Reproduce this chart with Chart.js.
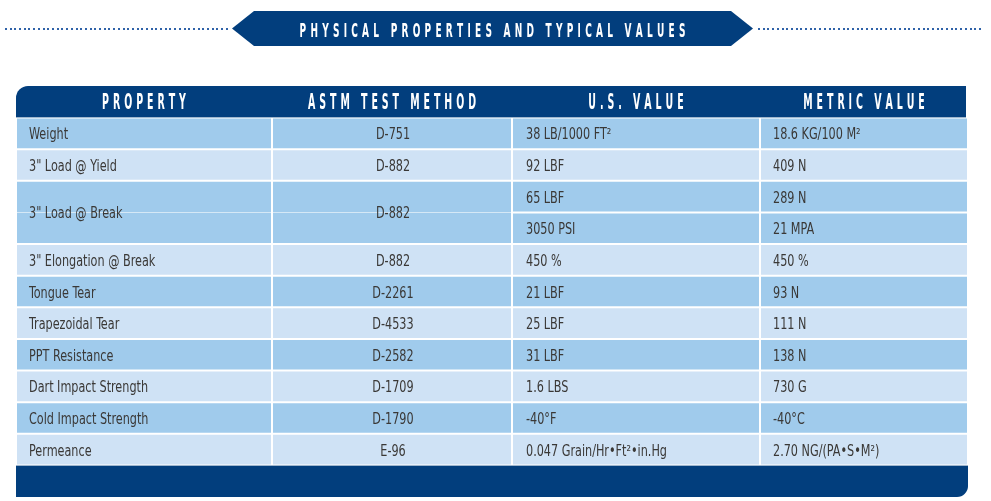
<!DOCTYPE html>
<html>
<head>
<meta charset="utf-8">
<title>Physical Properties and Typical Values</title>
<script src="https://cdn.jsdelivr.net/npm/chart.js@4.4.1/dist/chart.umd.min.js"></script>
<style>
  html, body { margin: 0; padding: 0; background: #ffffff; }
  #table { display: block; }
</style>
</head>
<body>
<canvas id="table" width="991" height="501"></canvas>
<script>
// ---- table content ----
const titleText = 'PHYSICAL PROPERTIES AND TYPICAL VALUES';
const headers = ['PROPERTY', 'ASTM TEST METHOD', 'U.S. VALUE', 'METRIC VALUE'];
const properties = ['Weight', '3" Load @ Yield', '3" Load @ Break', '3" Elongation @ Break', 'Tongue Tear',
    'Trapezoidal Tear', 'PPT Resistance', 'Dart Impact Strength', 'Cold Impact Strength', 'Permeance'];
const methods = ['D-751', 'D-882', 'D-882', 'D-882', 'D-2261', 'D-4533', 'D-2582', 'D-1709', 'D-1790', 'E-96'];
const usValues = [['38 LB/1000 FT\u00B2'], ['92 LBF'], ['65 LBF', '3050 PSI'], ['450 %'], ['21 LBF'], ['25 LBF'],
    ['31 LBF'], ['1.6 LBS'], ['-40\u00B0F'], ['0.047 Grain/Hr\u2022Ft\u00B2\u2022in.Hg']];
const metricValues = [['18.6 KG/100 M\u00B2'], ['409 N'], ['289 N', '21 MPA'], ['450 %'], ['93 N'], ['111 N'],
    ['138 N'], ['730 G'], ['-40\u00B0C'], ['2.70 NG/(PA\u2022S\u2022M\u00B2)']];

// ---- layout / style ----
const columnWidths = [256, 240, 248, 208];
const NAVY = '#023e7d';
const ROW_DARK = '#a0cbec';
const ROW_LIGHT = '#cfe2f5';
const TEXT = '#3a3836';
const NARROW = '"Liberation Sans Narrow", "DejaVu Sans Condensed", "Arial Narrow", sans-serif';
const BODY_SQUEEZE = 0.78;

const colEdges = [0];
columnWidths.forEach(w => colEdges.push(colEdges[colEdges.length - 1] + w));
const tableWidth = colEdges[colEdges.length - 1];

// one category per sub-row, plus header and footer bands
const subRows = [];
properties.forEach((p, i) => {
    usValues[i].forEach((v, j) => {
        subRows.push({ key: 'r' + subRows.length, prop: i, sub: j, count: usValues[i].length });
    });
});
const rowKeys = ['head'].concat(subRows.map(r => r.key), ['foot']);

function cellBorder(ctx) {
    const r = subRows[ctx.dataIndex];
    const merged = ctx.datasetIndex < 2 && r && r.count > 1;
    if (!merged) return 1;
    return {
        left: 1, right: 1,
        top: r.sub === 0 ? 1 : 0,
        bottom: r.sub === r.count - 1 ? 1 : 0
    };
}

const cellDatasets = columnWidths.map((w, c) => ({
    label: headers[c],
    data: subRows.map(r => ({ x: [colEdges[c], colEdges[c + 1]], y: r.key })),
    backgroundColor: ctx => (subRows[ctx.dataIndex].prop % 2 === 0 ? ROW_DARK : ROW_LIGHT),
    borderColor: '#ffffff',
    borderWidth: cellBorder
}));

const bandDatasets = [
    {
        label: 'header',
        data: [{ x: [0, tableWidth - 2], y: 'head' }],
        backgroundColor: NAVY,
        borderWidth: 0,
        borderRadius: { topLeft: 12, topRight: 0, bottomLeft: 0, bottomRight: 0 }
    },
    {
        label: 'footer',
        data: [{ x: [0, tableWidth], y: 'foot' }],
        backgroundColor: NAVY,
        borderWidth: 0,
        borderRadius: { topLeft: 0, topRight: 0, bottomLeft: 0, bottomRight: 11 }
    }
];

// draws text with extra tracking and horizontal squeeze, centred on cx
function drawTracked(ctx, text, cx, y, spacing, squeeze) {
    const widths = Array.from(text).map(ch => ctx.measureText(ch).width);
    const total = widths.reduce((a, b) => a + b, 0) + spacing * (widths.length - 1);
    ctx.save();
    ctx.translate(cx, y);
    ctx.scale(squeeze, 1);
    ctx.textAlign = 'left';
    let x = -total / 2;
    Array.from(text).forEach((ch, i) => {
        ctx.fillText(ch, x, 0);
        x += widths[i] + spacing;
    });
    ctx.restore();
}

// narrower body text, the original uses a condensed face
function drawNarrow(ctx, text, x, y, align) {
    ctx.save();
    ctx.translate(x, y);
    ctx.scale(BODY_SQUEEZE, 1);
    ctx.textAlign = align;
    ctx.fillText(text, 0, 0);
    ctx.restore();
}

const bannerPlugin = {
    id: 'banner',
    beforeDraw(chart) {
        const ctx = chart.ctx;
        ctx.save();
        // dotted rules either side of the banner
        ctx.fillStyle = '#2f62a8';
        for (let x = 5; x < 229; x += 4.7) ctx.fillRect(Math.round(x), 28, 2, 2);
        for (let x = 758; x < 982; x += 4.7) ctx.fillRect(Math.round(x), 28, 2, 2);
        // arrow-ended banner
        ctx.fillStyle = NAVY;
        ctx.beginPath();
        ctx.moveTo(232, 28.5);
        ctx.lineTo(254, 11);
        ctx.lineTo(731, 11);
        ctx.lineTo(753, 28.5);
        ctx.lineTo(731, 46);
        ctx.lineTo(254, 46);
        ctx.closePath();
        ctx.fill();
        ctx.fillStyle = '#ffffff';
        ctx.font = 'bold 20px ' + NARROW;
        ctx.textBaseline = 'alphabetic';
        drawTracked(ctx, titleText, 492.5, 36.5, 8.5, 0.5);
        ctx.restore();
    }
};

const textPlugin = {
    id: 'cellText',
    afterDatasetsDraw(chart) {
        const ctx = chart.ctx;
        const xs = chart.scales.x;
        const ys = chart.scales.y;
        const rowY = key => ys.getPixelForValue(rowKeys.indexOf(key));
        ctx.save();
        ctx.textBaseline = 'alphabetic';

        // header labels
        ctx.fillStyle = '#ffffff';
        ctx.font = 'bold 21px ' + NARROW;
        headers.forEach((h, c) => {
            const cx = (xs.getPixelForValue(colEdges[c]) + xs.getPixelForValue(colEdges[c + 1])) / 2;
            drawTracked(ctx, h, cx, rowY('head') + 7, 7.9, 0.5);
        });

        // body
        ctx.fillStyle = TEXT;
        ctx.font = '16px ' + NARROW;
        properties.forEach((p, i) => {
            const rows = subRows.filter(r => r.prop === i);
            const yMid = (rowY(rows[0].key) + rowY(rows[rows.length - 1].key)) / 2 + 6;
            drawNarrow(ctx, p, xs.getPixelForValue(colEdges[0]) + 13, yMid, 'left');
            drawNarrow(ctx, methods[i], (xs.getPixelForValue(colEdges[1]) + xs.getPixelForValue(colEdges[2])) / 2 + 1, yMid, 'center');
            rows.forEach(r => {
                const y = rowY(r.key) + 6;
                drawNarrow(ctx, usValues[i][r.sub], xs.getPixelForValue(colEdges[2]) + 14, y, 'left');
                drawNarrow(ctx, metricValues[i][r.sub], xs.getPixelForValue(colEdges[3]) + 13, y, 'left');
            });
        });
        ctx.restore();
    }
};

new Chart(document.getElementById('table'), {
    type: 'bar',
    data: {
        labels: rowKeys,
        datasets: cellDatasets.concat(bandDatasets)
    },
    options: {
        indexAxis: 'y',
        responsive: false,
        animation: false,
        devicePixelRatio: 1,
        layout: { padding: { top: 86, left: 16, right: 23, bottom: 4 } },
        datasets: {
            bar: {
                grouped: false,
                barPercentage: 1,
                categoryPercentage: 1,
                borderSkipped: false,
                inflateAmount: 0
            }
        },
        scales: {
            x: { type: 'linear', min: 0, max: tableWidth, display: false },
            y: { type: 'category', display: false }
        },
        plugins: {
            legend: { display: false },
            tooltip: { enabled: false }
        }
    },
    plugins: [bannerPlugin, textPlugin]
});
</script>
</body>
</html>
